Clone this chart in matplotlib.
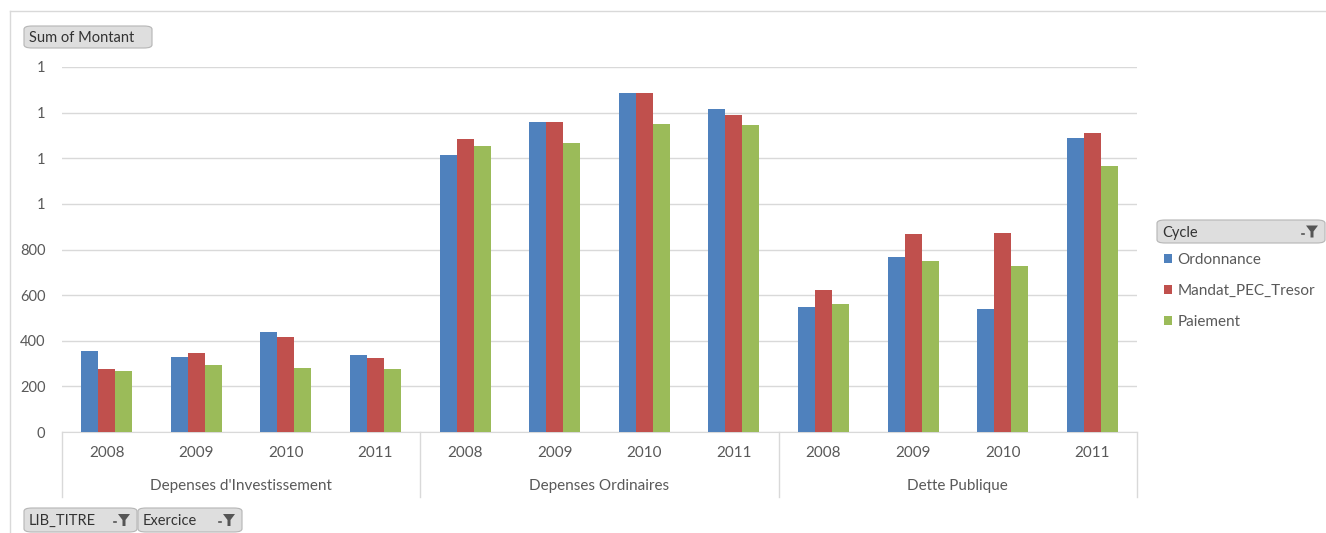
import matplotlib
matplotlib.use("Agg")
import matplotlib.pyplot as plt
from matplotlib.patches import FancyBboxPatch, Polygon
from matplotlib.transforms import blended_transform_factory
import numpy as np

groups = ["Depenses d'Investissement", "Depenses Ordinaires", "Dette Publique"]
years = ["2008", "2009", "2010", "2011"]
series_names = ["Ordonnance", "Mandat_PEC_Tresor", "Paiement"]
ordonnance = [354, 329, 440, 338, 1215, 1361, 1488, 1415, 550, 765, 541, 1288]
mandat = [275, 348, 415, 323, 1284, 1361, 1484, 1390, 623, 867, 872, 1309]
paiement = [266, 294, 279, 275, 1254, 1269, 1352, 1347, 560, 750, 727, 1168]
ytick_vals = [0, 200, 400, 600, 800, 1000, 1200, 1400, 1600]
ytick_labels = ["0", "200", "400", "600", "800", "1", "1", "1", "1"]
colors = ["#4F81BD", "#C0504D", "#9BBB59"]

W, H = 1326, 533
plt.rcParams['font.family'] = ['Lato', 'DejaVu Sans']
fig = plt.figure(figsize=(W / 100, H / 100), dpi=100)

def fx(px):
    return px / W

def fy(py):
    return 1 - py / H

# outer frame
fig.add_artist(plt.Line2D([fx(10), fx(1326)], [fy(11), fy(11)], color="#d9d9d9", lw=1))
fig.add_artist(plt.Line2D([fx(10), fx(10)], [fy(11), fy(533)], color="#d9d9d9", lw=1))

x0, x1, ytop, ybot = 62, 1137, 67, 432
ax = fig.add_axes([fx(x0), fy(ybot), fx(x1 - x0), (ybot - ytop) / H])

n = len(ordonnance)
x = np.arange(n)
bw = 0.19
data = [ordonnance, mandat, paiement]
bars = []
for i, (vals, c, name) in enumerate(zip(data, colors, series_names)):
    b = ax.bar(x + (i - 1) * bw, vals, width=bw, color=c, label=name, zorder=3)
    bars.append(b)

ax.set_xlim(-0.5, n - 0.5)
ax.set_ylim(0, 1600)
ax.set_yticks(ytick_vals)
ax.set_yticklabels(ytick_labels)
ax.tick_params(axis='y', length=0, pad=12, labelsize=10.5, labelcolor="#595959")
ax.set_xticks([])
ax.grid(axis='y', color="#d9d9d9", lw=1, zorder=0)
for s in ["top", "right", "left"]:
    ax.spines[s].set_visible(False)
ax.spines["bottom"].set_color("#d9d9d9")

tr = blended_transform_factory(ax.transData, ax.transAxes)
axh = ybot - ytop
for i in range(n):
    ax.text(x[i], -(453 - ybot) / axh, years[i % 4], transform=tr, ha="center", va="center",
            fontsize=11, color="#595959")
for g, name in enumerate(groups):
    ax.text(g * 4 + 1.5, -(486 - ybot) / axh, name, transform=tr, ha="center", va="center",
            fontsize=11, color="#595959")
for g in range(len(groups) + 1):
    ax.plot([g * 4 - 0.5, g * 4 - 0.5], [0, -(497 - ybot) / axh], transform=tr,
            color="#d9d9d9", lw=1, clip_on=False)

def button(px0, py0, px1, py1, label, funnel=False):
    box = FancyBboxPatch((fx(px0), fy(py1)), fx(px1 - px0), (py1 - py0) / H,
                         boxstyle="round,pad=0,rounding_size=0.006",
                         transform=fig.transFigure, facecolor="#dedede", edgecolor="#b5b5b5", lw=0.8)
    fig.add_artist(box)
    fig.text(fx(px0 + 5), fy((py0 + py1) / 2 + 1), label, ha="left", va="center",
             fontsize=10.5, color="#333333")
    if funnel:
        cx = px1 - 13
        cy = (py0 + py1) / 2
        poly = Polygon([(fx(cx - 6), fy(cy - 6)), (fx(cx + 6), fy(cy - 6)), (fx(cx + 1.5), fy(cy)),
                        (fx(cx + 1.5), fy(cy + 6)), (fx(cx - 1.5), fy(cy + 6)), (fx(cx - 1.5), fy(cy))],
                       closed=True, transform=fig.transFigure, facecolor="#555555", edgecolor="none")
        fig.add_artist(poly)
        fig.add_artist(plt.Line2D([fx(cx - 10), fx(cx - 8)], [fy(cy + 2), fy(cy + 2)],
                                  color="#555555", lw=1.2))

button(24, 26, 152, 48, "Sum of Montant")
button(24, 508, 137, 532, "LIB_TITRE", funnel=True)
button(138, 508, 242, 532, "Exercice", funnel=True)
button(1157, 220, 1325, 243, "Cycle", funnel=True)

leg = fig.legend(handles=bars, labels=series_names, loc="upper left",
                 bbox_to_anchor=(fx(1164), fy(253)), frameon=False, fontsize=11,
                 handlelength=0.55, handleheight=0.55, handletextpad=0.35,
                 labelspacing=1.12, borderaxespad=0, borderpad=0)
for t in leg.get_texts():
    t.set_color("#595959")

fig.savefig("out.png", dpi=100)
